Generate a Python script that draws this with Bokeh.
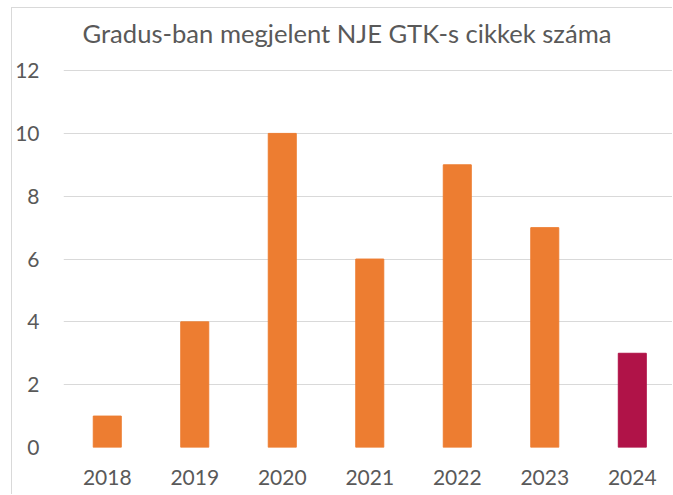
from bokeh.plotting import figure
from bokeh.models import ColumnDataSource, Range1d, FixedTicker
from bokeh.embed import file_html
from bokeh.resources import INLINE

years = ["2018", "2019", "2020", "2021", "2022", "2023", "2024"]
counts = [1, 4, 10, 6, 9, 7, 3]
bar_colors = ["#ED7D31"] * 6 + ["#B01348"]
title_text = "Gradus-ban megjelent NJE GTK-s cikkek száma"
y_ticks = [0, 2, 4, 6, 8, 10, 12]

FONT = "Lato"
TXT = "#595959"

xs = list(range(len(years)))
src = ColumnDataSource(dict(x=xs, top=counts, color=bar_colors))

p = figure(width=661, height=487, output_backend="svg", toolbar_location=None,
           x_range=Range1d(-0.5, 6.471), y_range=Range1d(0, 12.64),
           min_border_left=51, min_border_right=0, min_border_top=42, min_border_bottom=48,
           styles={"margin-left": "11px", "margin-top": "7px",
                   "border-left": "1px solid #d9d9d9", "border-top": "1px solid #d9d9d9"})
p.outline_line_color = None
p.vbar(x="x", top="top", width=0.32, color="color", source=src)

p.title.text = title_text
p.title.align = "left"
p.title.offset = 19
p.title.standoff = 5
p.title.text_font = FONT
p.title.text_font_size = "25.6px"
p.title.text_font_style = "normal"
p.title.text_color = TXT

p.xgrid.grid_line_color = None
p.ygrid.grid_line_color = "#d9d9d9"
p.ygrid.grid_line_width = 1

p.yaxis.ticker = FixedTicker(ticks=y_ticks)
p.xaxis.ticker = FixedTicker(ticks=xs)
p.xaxis.major_label_overrides = {i: y for i, y in enumerate(years)}
for ax in (p.xaxis, p.yaxis):
    ax.axis_line_color = None
    ax.major_tick_line_color = None
    ax.minor_tick_line_color = None
    ax.major_label_text_font = FONT
    ax.major_label_text_font_size = "21px"
    ax.major_label_text_color = TXT
p.yaxis.major_label_standoff = 18
p.xaxis.major_label_standoff = 16

open("out.html", "w").write(file_html(p, INLINE))
